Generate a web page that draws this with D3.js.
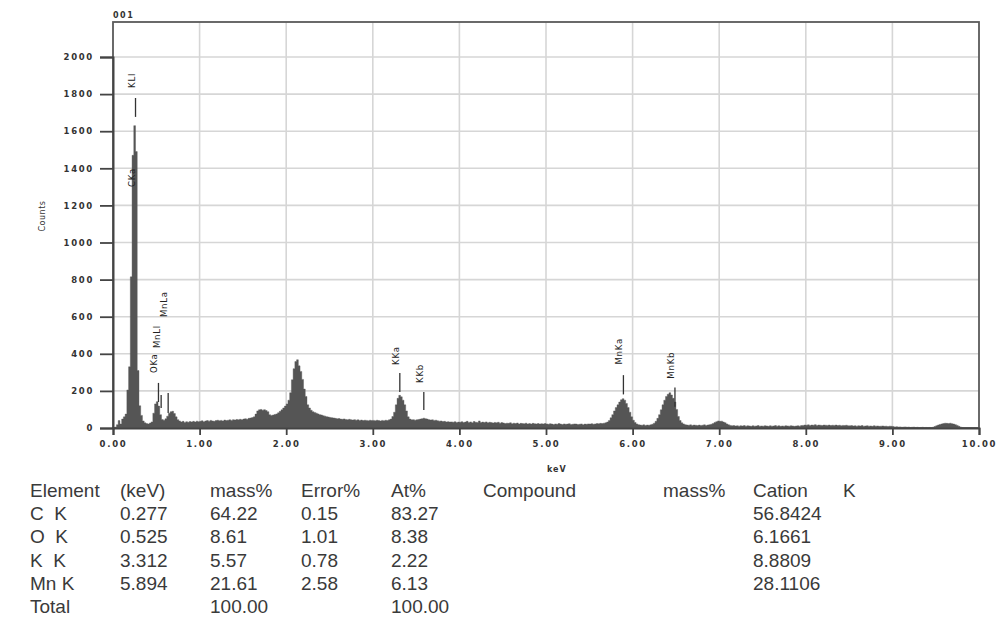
<!DOCTYPE html>
<meta charset="utf-8">
<script src="https://d3js.org/d3.v7.min.js"></script>
<style>
  body { margin: 0; background: #fff; }
  text { font-family: "DejaVu Sans", sans-serif; }
  .tbl { font-family: "Liberation Sans", Arial, sans-serif; font-size: 19px; fill: #3a3a3a; }
</style>
<svg id="chart" width="1001" height="626"></svg>
<script>

// spectrum counts, one value per 0.02 keV channel group, starting at 0.00 keV
var binWidth = 0.02;
var counts = [
  0, 5, 18, 40, 22, 48, 60, 75, 205, 330, 815, 1470, 1630, 1490, 310, 120, 68, 38, 28, 24, 22, 27, 33, 80, 130,
  142, 118, 72, 46, 42, 50, 64, 80, 88, 90, 78, 60, 45, 38, 33, 36, 30, 34, 31, 35, 33, 36, 32, 37, 34,
  36, 39, 34, 38, 40, 37, 41, 38, 36, 40, 42, 39, 41, 38, 43, 40, 42, 44, 41, 45, 43, 46, 44, 47, 45,
  48, 50, 47, 52, 54, 56, 60, 75, 92, 98, 100, 96, 99, 94, 88, 72, 68, 70, 73, 76, 82, 90, 98, 108, 118,
  130, 150, 190, 260, 320, 358, 368, 335, 305, 262, 210, 170, 125, 108, 96, 88, 84, 80, 76, 72, 70, 66, 64, 61, 59,
  57, 55, 54, 52, 50, 51, 48, 47, 49, 46, 45, 47, 44, 43, 45, 42, 44, 41, 43, 40, 42, 41, 39, 42, 40,
  41, 39, 42, 40, 38, 41, 39, 42, 40, 44, 48, 62, 85, 125, 160, 176, 168, 150, 125, 92, 60, 48, 44, 45, 42,
  44, 46, 48, 50, 53, 50, 48, 45, 43, 44, 41, 42, 39, 37, 38, 35, 36, 33, 34, 32, 33, 31, 34, 30, 32,
  31, 34, 29, 32, 36, 30, 33, 28, 35, 31, 30, 38, 29, 32, 30, 33, 28, 31, 29, 27, 30, 28, 31, 26, 29,
  27, 24, 26, 25, 28, 23, 26, 24, 27, 22, 25, 24, 23, 26, 22, 24, 21, 25, 23, 22, 24, 21, 23, 22, 24,
  22, 20, 23, 21, 19, 22, 20, 24, 21, 19, 22, 20, 21, 23, 19, 20, 22, 21, 19, 20, 22, 18, 21, 20, 22,
  21, 23, 20, 22, 24, 23, 25, 24, 26, 28, 32, 40, 55, 72, 92, 110, 125, 140, 152, 158, 150, 132, 110, 85, 60,
  42, 30, 22, 18, 16, 15, 17, 14, 16, 15, 17, 20, 26, 36, 52, 72, 98, 125, 150, 170, 182, 190, 178, 160, 140,
  100, 62, 40, 28, 22, 18, 16, 15, 17, 14, 16, 15, 13, 16, 14, 15, 17, 14, 16, 18, 20, 24, 30, 34, 38,
  36, 37, 32, 28, 22, 17, 14, 12, 13, 11, 12, 10, 12, 11, 13, 10, 12, 11, 9, 12, 10, 11, 13, 10, 11,
  10, 12, 11, 9, 12, 10, 11, 13, 10, 12, 9, 11, 10, 12, 11, 10, 12, 11, 9, 11, 12, 10, 13, 14, 16,
  15, 17, 14, 16, 15, 18, 14, 16, 15, 13, 16, 15, 14, 16, 13, 15, 14, 16, 13, 15, 12, 14, 13, 15, 12,
  12, 13, 11, 12, 10, 12, 11, 13, 10, 11, 12, 10, 11, 9, 12, 10, 11, 9, 10, 11, 9, 10, 8, 10, 9,
  8, 6, 7, 5, 6, 4, 5, 6, 4, 5, 3, 4, 5, 3, 4, 2, 3, 4, 2, 3, 2, 3, 2, 4, 8,
  12, 16, 19, 22, 24, 26, 25, 24, 26, 23, 21, 18, 14, 9, 5, 3, 2, 1, 2, 1, 1, 0, 1, 0, 0
];

// peak identification labels: name, energy (keV), marker top / bottom and label start (counts)
var peakNames  = ["KLl", "CKa", "OKa", "MnLl", "MnLa", "KKa", "KKb", "MnKa", "MnKb"];
var peakKeV    = [0.260, 0.262, 0.525, 0.556, 0.637, 3.312, 3.589, 5.894, 6.489];
var markTop    = [1779, null, 243, 178, 189, 296, 194, 285, 219];
var markBottom = [1677, null, 140, 108, 81, 194, 97, 181, 115];
var labelAt    = [1833, 1299, 296, 431, 598, 340, 243, 342, 266];

var xTicks = [0, 1, 2, 3, 4, 5, 6, 7, 8, 9, 10];
var yTicks = [0, 200, 400, 600, 800, 1000, 1200, 1400, 1600, 1800, 2000];

// quantitative result table
var tableHeader = ["Element", "(keV)", "mass%", "Error%", "At%", "Compound", "mass%", "Cation", "K"];
var elements  = ["C  K", "O  K", "K  K", "Mn K", "Total"];
var lineKeV   = ["0.277", "0.525", "3.312", "5.894", ""];
var massPct   = ["64.22", "8.61", "5.57", "21.61", "100.00"];
var errorPct  = ["0.15", "1.01", "0.78", "2.58", ""];
var atPct     = ["83.27", "8.38", "2.22", "6.13", "100.00"];
var cation    = ["56.8424", "6.1661", "8.8809", "28.1106", ""];

var svg = d3.select("#chart");

var x = d3.scaleLinear().domain([0, 10]).range([113, 979]);
var y = d3.scaleLinear().domain([0, 2000]).range([428, 57]);
var yTop = 22;

// grid
svg.append("g")
  .selectAll("line")
  .data(xTicks.slice(1, -1))
  .enter()
  .append("line")
    .attr("x1", function(d){ return x(d) })
    .attr("x2", function(d){ return x(d) })
    .attr("y1", yTop)
    .attr("y2", y(0))
    .attr("stroke", "#d6d6d6")
    .attr("stroke-width", 1.6)

svg.append("g")
  .selectAll("line")
  .data(yTicks.slice(1))
  .enter()
  .append("line")
    .attr("x1", x(0))
    .attr("x2", x(10))
    .attr("y1", function(d){ return y(d) })
    .attr("y2", function(d){ return y(d) })
    .attr("stroke", "#d6d6d6")
    .attr("stroke-width", 1.6)

// spectrum as step area
var pts = counts.map(function(c, i){ return [i * binWidth, c] });
pts.push([10, 0]);
var area = d3.area()
  .curve(d3.curveStepAfter)
  .x(function(d){ return x(d[0]) })
  .y0(y(0))
  .y1(function(d){ return y(d[1]) });

svg.append("path")
  .datum(pts)
  .attr("fill", "#555")
  .attr("stroke", "#555")
  .attr("stroke-width", 0.4)
  .attr("d", area)

// frame
svg.append("rect")
  .attr("x", x(0))
  .attr("y", yTop)
  .attr("width", x(10) - x(0))
  .attr("height", y(0) - yTop)
  .attr("fill", "none")
  .attr("stroke", "#5a5a5a")
  .attr("stroke-width", 1.8)

// axes
var yAxis = d3.axisLeft(y).tickValues(yTicks).tickSize(13).tickPadding(6).tickFormat(d3.format("d"));
var gy = svg.append("g").attr("transform", "translate(" + x(0) + ",0)").call(yAxis);
var xAxis = d3.axisBottom(x).tickValues(xTicks).tickSize(7).tickPadding(6).tickFormat(d3.format(".2f"));
var gx = svg.append("g").attr("transform", "translate(0," + y(0) + ")").call(xAxis);

[gx, gy].forEach(function(g){
  g.select(".domain").attr("stroke", "#444").attr("stroke-width", 2);
  g.selectAll(".tick line").attr("stroke", "#444").attr("stroke-width", 1.8);
  g.selectAll(".tick text")
    .attr("fill", "#333")
    .style("font-size", "8.5px")
    .style("font-weight", "bold")
    .style("letter-spacing", "1.7px");
});

// titles
svg.append("text").attr("x", 113).attr("y", 18)
  .style("font-size", "8px").style("font-weight", "bold").style("letter-spacing", "1.5px")
  .attr("fill", "#333").text("001")

svg.append("text").attr("x", 547).attr("y", 472)
  .style("font-size", "8px").style("font-weight", "bold").style("letter-spacing", "1px")
  .attr("fill", "#333").text("keV")

svg.append("text")
  .attr("transform", "translate(45,216) rotate(-90)")
  .attr("text-anchor", "middle")
  .style("font-size", "8px").style("letter-spacing", "0.5px")
  .attr("fill", "#333").text("Counts")

// peak markers and labels
var peaks = peakNames.map(function(n, i){
  return {name: n, e: peakKeV[i], top: markTop[i], bot: markBottom[i], lab: labelAt[i]};
});

svg.append("g")
  .selectAll("line")
  .data(peaks.filter(function(d){ return d.top !== null }))
  .enter()
  .append("line")
    .attr("x1", function(d){ return x(d.e) })
    .attr("x2", function(d){ return x(d.e) })
    .attr("y1", function(d){ return y(d.top) })
    .attr("y2", function(d){ return y(d.bot) })
    .attr("stroke", "#333")
    .attr("stroke-width", 1.3)

svg.append("g")
  .selectAll("text")
  .data(peaks)
  .enter()
  .append("text")
    .attr("transform", function(d){ return "translate(" + (x(d.e) - 1) + "," + y(d.lab) + ") rotate(-90)" })
    .style("font-size", "8.5px")
    .style("letter-spacing", "0.8px")
    .attr("fill", "#222")
    .text(function(d){ return d.name })

// result table
var colX = [30, 120, 210, 301, 391, 483, 663, 753, 843];
var rowY0 = 497, rowH = 23.2;
var tbl = svg.append("g").attr("class", "tbl");

tbl.selectAll(".hdr")
  .data(tableHeader)
  .enter()
  .append("text")
    .attr("class", "tbl")
    .attr("x", function(d, i){ return colX[i] })
    .attr("y", rowY0)
    .attr("xml:space", "preserve")
    .text(function(d){ return d })

var cols = [[elements, 0], [lineKeV, 1], [massPct, 2], [errorPct, 3], [atPct, 4], [cation, 7]];
cols.forEach(function(c){
  tbl.append("g").selectAll("text")
    .data(c[0])
    .enter()
    .append("text")
      .attr("class", "tbl")
      .attr("x", colX[c[1]])
      .attr("y", function(d, i){ return rowY0 + (i + 1) * rowH })
      .attr("xml:space", "preserve")
      .text(function(d){ return d })
});

</script>
